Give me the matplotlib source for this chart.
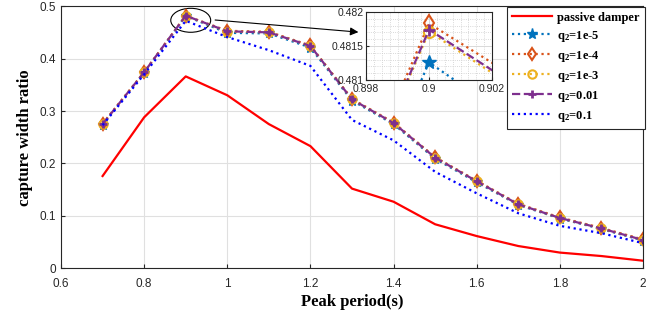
import numpy as np
import matplotlib
matplotlib.use("Agg")
import matplotlib.pyplot as plt
from matplotlib.patches import Ellipse
from matplotlib.ticker import MultipleLocator

plt.rcParams["mathtext.fontset"] = "custom"
plt.rcParams["mathtext.rm"] = "Liberation Serif:bold"
plt.rcParams["mathtext.bf"] = "Liberation Serif:bold"
plt.rcParams["mathtext.it"] = "Liberation Serif:bold"

# data
periods = [0.7, 0.8, 0.9, 1.0, 1.1, 1.2, 1.3, 1.4, 1.5, 1.6, 1.7, 1.8, 1.9, 2.0]
passive = [0.176, 0.288, 0.366, 0.330, 0.275, 0.233, 0.152, 0.127, 0.084, 0.0615, 0.0425, 0.030, 0.0234, 0.0145]
q2_1e5 = [0.274, 0.373, 0.48126, 0.449, 0.448, 0.421, 0.320, 0.275, 0.209, 0.164, 0.121, 0.095, 0.075, 0.053]
q2_1e4 = [0.276, 0.374, 0.48183, 0.453, 0.451, 0.425, 0.323, 0.278, 0.212, 0.167, 0.123, 0.097, 0.077, 0.055]
q2_1e3 = [0.275, 0.374, 0.48171, 0.4515, 0.450, 0.424, 0.322, 0.277, 0.211, 0.166, 0.122, 0.096, 0.076, 0.054]
q2_1e2 = [0.275, 0.374, 0.48174, 0.452, 0.450, 0.424, 0.322, 0.277, 0.211, 0.166, 0.122, 0.096, 0.076, 0.054]
q2_1e1 = [0.273, 0.370, 0.472, 0.441, 0.416, 0.386, 0.283, 0.244, 0.184, 0.143, 0.105, 0.081, 0.067, 0.048]
labels = ["passive damper", r"q$_{2}$=1e-5", r"q$_{2}$=1e-4", r"q$_{2}$=1e-3", r"q$_{2}$=0.01", r"q$_{2}$=0.1"]

xticks = [0.6, 0.8, 1.0, 1.2, 1.4, 1.6, 1.8, 2.0]
xticklabels = ["0.6", "0.8", "1", "1.2", "1.4", "1.6", "1.8", "2"]
yticks = [0, 0.1, 0.2, 0.3, 0.4, 0.5]
yticklabels = ["0", "0.1", "0.2", "0.3", "0.4", "0.5"]
inset_xticks = [0.898, 0.9, 0.902]
inset_yticks = [0.481, 0.4815, 0.482]

C_BLUE = (0, 0.447, 0.741)
C_ORANGE = (0.85, 0.325, 0.098)
C_YELLOW = (0.929, 0.694, 0.125)
C_PURPLE = (0.494, 0.184, 0.556)
TXT = (0.15, 0.15, 0.15)


def draw_series(ax, ms=6):
    ax.plot(periods, passive, "-", color="red", lw=1.6, label=labels[0])
    ax.plot(periods, q2_1e5, ":", color=C_BLUE, lw=1.6, marker="*", ms=ms + 2, label=labels[1])
    ax.plot(periods, q2_1e4, ":", color=C_ORANGE, lw=1.6, marker="d", ms=ms, mfc="none", mew=1.5, label=labels[2])
    ax.plot(periods, q2_1e3, ":", color=C_YELLOW, lw=1.6, marker="o", ms=ms, mfc="none", mew=1.5, label=labels[3])
    ax.plot(periods, q2_1e2, "--", color=C_PURPLE, lw=1.6, marker="+", ms=ms, mew=2, label=labels[4])
    ax.plot(periods, q2_1e1, ":", color="blue", lw=1.6, label=labels[5])


fig = plt.figure(figsize=(6.59, 3.23), dpi=100)
ax = fig.add_axes([0.0926, 0.1693, 0.8831, 0.8117])
draw_series(ax)
ax.set_xlim(0.6, 2.0)
ax.set_ylim(0, 0.5)
ax.set_xticks(xticks, xticklabels)
ax.set_yticks(yticks, yticklabels)
ax.grid(True, color=(0.88, 0.88, 0.88), lw=0.8)
ax.set_axisbelow(True)
ax.tick_params(direction="in", labelsize=8.5, colors=TXT, length=3)
ax.tick_params(axis="x", pad=7)
for lab in ax.get_xticklabels() + ax.get_yticklabels():
    lab.set_fontfamily("Liberation Sans")
for s in ax.spines.values():
    s.set_color(TXT)
ax.set_xlabel("Peak period(s)", fontsize=12, fontweight="bold", family="Liberation Serif", labelpad=3)
ax.set_ylabel("capture width ratio", fontsize=12, fontweight="bold", family="Liberation Serif", labelpad=5)

leg = ax.legend(loc="upper right", bbox_to_anchor=(1.003, 0.998), borderaxespad=0, numpoints=1,
                handlelength=3.2, handletextpad=0.4, labelspacing=0.4, fancybox=False, framealpha=1,
                prop={"family": "Liberation Serif", "weight": "bold", "size": 9})
leg.get_frame().set_edgecolor(TXT)
leg.get_frame().set_linewidth(0.8)

ax.add_patch(Ellipse((0.912, 0.473), 0.096, 0.0457, fill=False, ec="black", lw=0.8))
ax.annotate("", xy=(1.322, 0.450), xytext=(0.964, 0.474),
            arrowprops=dict(arrowstyle="-|>", color="black", lw=0.8, mutation_scale=12))

# zoomed inset
ins = fig.add_axes([0.5554, 0.7523, 0.1912, 0.2108])
draw_series(ins, ms=8)
ins.set_xlim(0.898, 0.902)
ins.set_ylim(0.481, 0.482)
ins.set_xticks(inset_xticks, ["0.898", "0.9", "0.902"])
ins.set_yticks(inset_yticks, ["0.481", "0.4815", "0.482"])
ins.xaxis.set_minor_locator(MultipleLocator(0.00025))
ins.yaxis.set_minor_locator(MultipleLocator(0.0001))
ins.grid(True, which="major", color=(0.85, 0.85, 0.85), lw=0.7)
ins.grid(True, which="minor", color=(0.8, 0.8, 0.8), lw=0.6, ls=":")
ins.set_axisbelow(True)
ins.tick_params(which="both", direction="in", labelsize=7.5, colors=TXT, length=2, pad=1.5)
ins.tick_params(axis="x", which="both", pad=3)
ins.tick_params(which="minor", length=0)
for lab in ins.get_xticklabels() + ins.get_yticklabels():
    lab.set_fontfamily("Liberation Sans")
for s in ins.spines.values():
    s.set_color(TXT)

fig.savefig("out.png", dpi=100)
